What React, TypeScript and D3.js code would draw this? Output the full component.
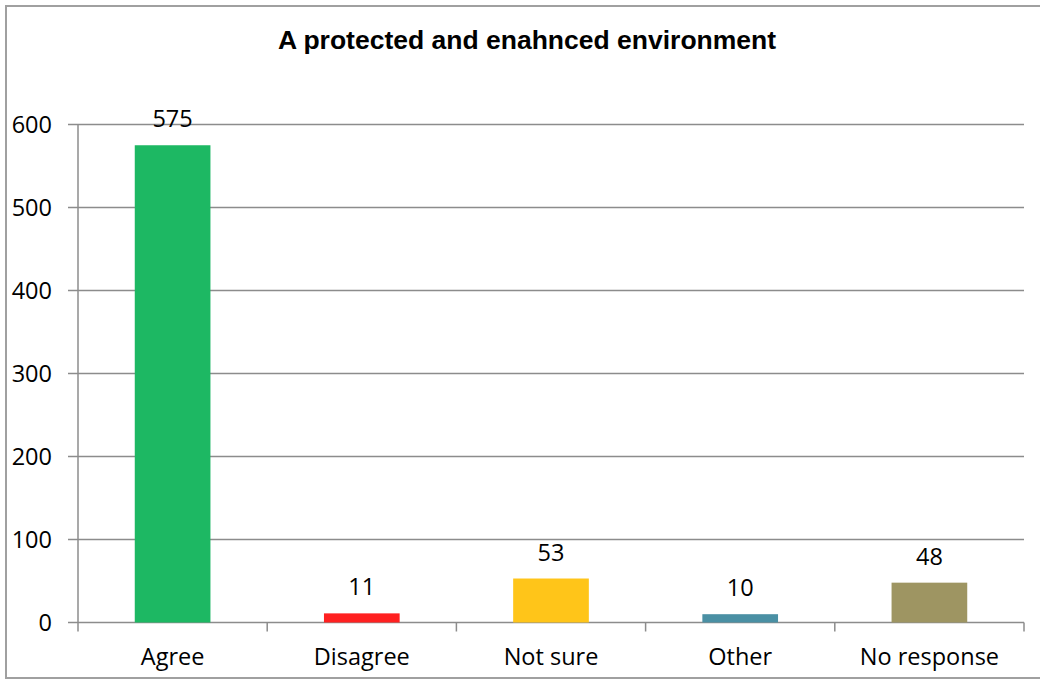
import React from "react";
import * as d3 from "d3";

const categories = ["Agree", "Disagree", "Not sure", "Other", "No response"];
const values = [575, 11, 53, 10, 48];
const colors = ["#1DB863", "#FF2020", "#FFC519", "#4A90A4", "#9E9562"];
const yTicks = [0, 100, 200, 300, 400, 500, 600];
const title = "A protected and enahnced environment";

export default function App() {
  const W = 1040, H = 680;
  const left = 78, right = 1024, top = 124.5, bottom = 622.5;
  const x = d3.scaleBand<string>().domain(categories).range([left, right]).paddingInner(0.6).paddingOuter(0.3);
  const y = d3.scaleLinear().domain([0, 600]).range([bottom, top]);
  const step = (right - left) / categories.length;
  const font = "'Open Sans', sans-serif";
  const fs = 23.5;
  return (
    <svg width={W} height={H} style={{ position: "absolute", left: 0, top: 0, background: "#fff" }}>
      <rect x={6} y={6} width={1040} height={672} fill="#fff" stroke="#a0a0a0" strokeWidth={2} />
      <text x={527} y={49} textAnchor="middle" fontFamily="'Liberation Sans', Arial, sans-serif" fontWeight="bold" fontSize={26.5} fill="#000">{title}</text>
      {yTicks.map((t) => (
        <g key={t}>
          <line x1={68} x2={right} y1={y(t)} y2={y(t)} stroke="#8c8c8c" strokeWidth={1.5} />
          <text x={52} y={y(t) + 8.5} textAnchor="end" fontFamily={font} fontSize={fs} fill="#000">{t}</text>
        </g>
      ))}
      <line x1={left} x2={left} y1={top} y2={bottom} stroke="#8c8c8c" strokeWidth={1.5} />
      {d3.range(categories.length + 1).map((i) => (
        <line key={i} x1={left + i * step} x2={left + i * step} y1={bottom} y2={bottom + 9} stroke="#8c8c8c" strokeWidth={1.5} />
      ))}
      {categories.map((c, i) => (
        <g key={c}>
          <rect x={x(c)!} y={y(values[i])} width={x.bandwidth()} height={bottom - y(values[i])} fill={colors[i]} />
          <text x={x(c)! + x.bandwidth() / 2} y={y(values[i]) - 18} textAnchor="middle" fontFamily={font} fontSize={fs} fill="#000">{values[i]}</text>
          <text x={left + (i + 0.5) * step} y={665} textAnchor="middle" fontFamily={font} fontSize={fs} fill="#000">{c}</text>
        </g>
      ))}
    </svg>
  );
}
